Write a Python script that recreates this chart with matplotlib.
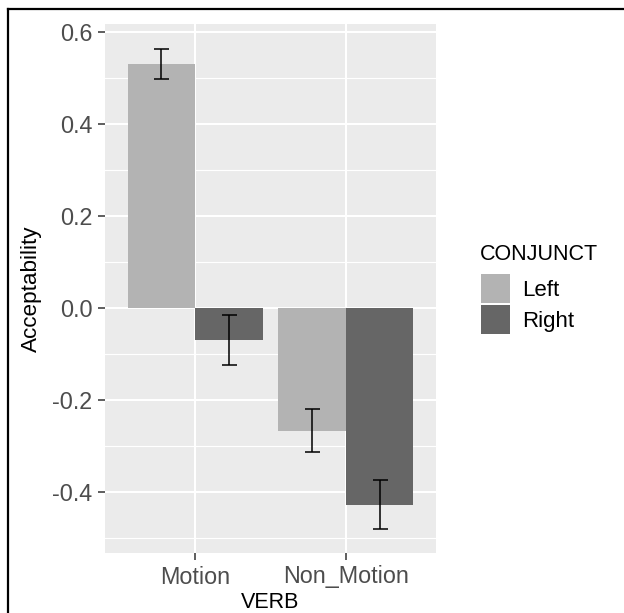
#!/usr/bin/env python3
"""
Grouped bar chart of acceptability by verb type and conjunct, ggplot look.
"""
import numpy as np
import matplotlib
matplotlib.use('Agg')
import matplotlib.pyplot as plt
from matplotlib.lines import Line2D
from matplotlib.patches import Patch

verbs = ['Motion', 'Non_Motion']
conjuncts = ['Left', 'Right']
means = {
    'Left': [0.530, -0.267],
    'Right': [-0.070, -0.428],
}
errors = {
    'Left': [0.032, 0.046],
    'Right': [0.054, 0.053],
}
colors = {'Left': '#B3B3B3', 'Right': '#666666'}

yticks = [-0.4, -0.2, 0.0, 0.2, 0.4, 0.6]
yminor = [-0.5, -0.3, -0.1, 0.1, 0.3, 0.5]


def main():
    plt.rcParams['font.family'] = ['Liberation Sans', 'DejaVu Sans']
    W, H = 624, 613
    fig = plt.figure(figsize=(W / 100, H / 100), dpi=100)
    ax = fig.add_axes([105 / W, 1 - 553 / H, 331 / W, 529 / H])
    ax.set_facecolor('#EBEBEB')

    x = np.arange(1, len(verbs) + 1)
    width = 0.45
    for i, c in enumerate(conjuncts):
        pos = x + (i - 0.5) * width
        ax.bar(pos, means[c], width=width, color=colors[c], zorder=2)
        ax.errorbar(pos, means[c], yerr=errors[c], fmt='none',
                    ecolor='black', elinewidth=1.1, capsize=5.4,
                    capthick=1.1, zorder=3)

    ax.set_xlim(0.4, 2.6)
    ax.set_ylim(-0.533, 0.617)
    ax.set_xticks(x)
    ax.set_xticklabels(verbs)
    ax.set_yticks(yticks)
    ax.set_yticklabels(['%.1f' % v for v in yticks])
    ax.set_yticks(yminor, minor=True)

    ax.grid(which='major', color='white', linewidth=1.5, zorder=0)
    ax.grid(which='minor', axis='y', color='white', linewidth=0.8, zorder=0)
    ax.set_axisbelow(True)
    for s in ax.spines.values():
        s.set_visible(False)
    ax.tick_params(which='major', length=5, width=1.1, color='#333333',
                   labelcolor='#4D4D4D', labelsize=16.8, pad=4)
    ax.tick_params(which='minor', length=0)

    fig.text(31.5 / W, 1 - 289 / H, 'Acceptability', rotation=90,
             ha='center', va='center', fontsize=16.2)
    fig.text(270 / W, 1 - 603 / H, 'VERB', ha='center', va='center',
             fontsize=15.5)

    # legend title placed on its own so the gap to the keys can be set
    fig.text(480 / W, 1 - 260 / H, 'CONJUNCT', ha='left', va='baseline',
             fontsize=15.5)
    handles = [Patch(facecolor=colors[c], edgecolor='none') for c in conjuncts]
    fig.legend(handles, conjuncts,
               loc='upper left', bbox_to_anchor=(481 / W, 1 - 274 / H),
               frameon=False, fontsize=16,
               handlelength=1.3, handleheight=1.64, labelspacing=0.1,
               handletextpad=0.54, borderpad=0, borderaxespad=0)

    # page frame on top and left
    fig.add_artist(Line2D([7.5 / W, 1], [1 - 9 / H, 1 - 9 / H],
                          color='black', linewidth=1.6))
    fig.add_artist(Line2D([7.5 / W, 7.5 / W], [0, 1 - 9 / H],
                          color='black', linewidth=1.6))

    fig.savefig('out.png', dpi=100)


if __name__ == '__main__':
    main()
